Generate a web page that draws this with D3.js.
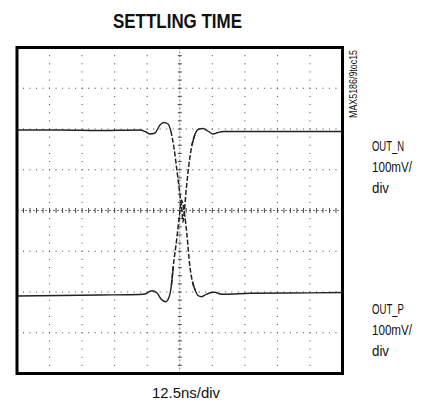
<!DOCTYPE html>
<html>
<head>
<meta charset="utf-8">
<script src="https://cdn.jsdelivr.net/npm/d3@7"></script>
<style>
  body { margin: 0; background: #fff; }
  svg { display: block; }
  text { font-family: "Liberation Sans Narrow", "Liberation Sans", Arial, sans-serif; fill: #111; }
</style>
</head>
<body>
<svg id="chart"></svg>
<script>
// scope trace, time in ns, level in mV
const outNTime = [0, 16.5, 31.9, 47.2, 49.5, 51.1, 53.0, 54.9, 56.4, 58.0, 59.1, 60.3, 61.4, 62.6, 63.4, 63.7, 64.3, 64.9, 66.0, 67.2, 68.4, 69.9, 71.4, 73.3, 75.3, 77.2, 79.5, 93.3, 108.7, 125];
const outNmV   = [197.5, 197.5, 196.3, 197.5, 192.6, 187.7, 190.2, 209.8, 216.0, 212.3, 195.1, 153.4, 99.4, 38.0, -3.7, -28.2, 1.2, 45.4, 111.7, 160.7, 187.7, 200.0, 201.2, 195.1, 187.7, 191.4, 193.9, 193.9, 193.9, 193.9];

const outPTime = [0, 16.5, 31.9, 47.2, 49.2, 51.7, 53.8, 55.3, 57.1, 58.4, 59.3, 60.0, 61.3, 62.4, 63.2, 63.7, 64.4, 65.2, 66.4, 67.4, 68.4, 69.5, 70.9, 72.6, 74.5, 76.0, 78.0, 79.9, 89.5, 104.8, 125];
const outPmV   = [-209.8, -208.6, -207.4, -206.1, -204.9, -196.8, -202.5, -217.2, -223.8, -212.3, -182.8, -137.9, -72.4, -11.0, 25.8, 16.0, -11.0, -56.0, -137.9, -175.5, -195.1, -208.6, -211.5, -206.1, -201.2, -200.7, -204.9, -205.6, -203.2, -202.5, -201.2];

// scope graticule: 10 x 8 divisions
const xDivs = d3.range(0, 11);        // 12.5ns/div
const yDivs = d3.range(-4, 5);        // 100mV/div
const nsPerDiv = 12.5;
const mVPerDiv = 100;

const labels = ["OUT_N", "100mV/", "div"];
const labelsP = ["OUT_P", "100mV/", "div"];

const width = 425, height = 402;
const plotL = 17, plotR = 342.5, plotT = 47.5, plotB = 373.5;

const svg = d3.select("#chart").attr("width", width).attr("height", height);

const x = d3.scaleLinear().domain([0, 10 * nsPerDiv]).range([plotL, plotR]);
const y = d3.scaleLinear().domain([-4 * mVPerDiv, 4 * mVPerDiv]).range([plotB, plotT]);

const grid = svg.append("g");

// dotted grid lines, dots at 1/5 division
const subX = d3.range(0, 50.01, 1).map(i => i * nsPerDiv / 5);
const subY = d3.range(-20, 20.01, 1).map(i => i * mVPerDiv / 5);

xDivs.slice(1, -1).forEach(d => {
  if (d === 5) return;
  grid.selectAll(null).data(subY).enter().append("rect")
    .attr("x", x(d * nsPerDiv) - 0.5).attr("y", v => y(v) - 0.5)
    .attr("width", 1).attr("height", 1).attr("fill", "#444");
});
yDivs.slice(1, -1).forEach(d => {
  if (d === 0) return;
  grid.selectAll(null).data(subX).enter().append("rect")
    .attr("x", t => x(t) - 0.5).attr("y", y(d * mVPerDiv) - 0.5)
    .attr("width", 1).attr("height", 1).attr("fill", "#444");
});

// centre axes with small tick marks
grid.selectAll(null).data(subX).enter().append("line")
  .attr("x1", t => x(t)).attr("x2", t => x(t))
  .attr("y1", y(0) - 2.5).attr("y2", y(0) + 2.5)
  .attr("stroke", "#333").attr("stroke-width", 0.9);
grid.append("line")
  .attr("x1", plotL).attr("x2", plotR).attr("y1", y(0)).attr("y2", y(0))
  .attr("stroke", "#555").attr("stroke-width", 0.8).attr("stroke-dasharray", "2,2");
grid.selectAll(null).data(subY).enter().append("line")
  .attr("x1", x(62.5) - 2).attr("x2", x(62.5) + 2)
  .attr("y1", v => y(v)).attr("y2", v => y(v))
  .attr("stroke", "#333").attr("stroke-width", 0.9);
grid.append("line")
  .attr("x1", x(62.5)).attr("x2", x(62.5)).attr("y1", plotT).attr("y2", plotB)
  .attr("stroke", "#555").attr("stroke-width", 0.8).attr("stroke-dasharray", "2,2");

// traces: steep edges look broken up on the scope, so draw them dashed
const line = d3.line().x(d => x(d[0])).y(d => y(d[1])).curve(d3.curveMonotoneX);
const traces = [d3.zip(outNTime, outNmV), d3.zip(outPTime, outPmV)];
const edgeFrom = 59.5, edgeTo = 67.5;

traces.forEach(pts => {
  const g = svg.append("g").attr("fill", "none").attr("stroke", "#222");
  g.append("path")
    .attr("d", line(pts.filter(d => d[0] <= edgeFrom + 0.6)))
    .attr("stroke-width", 1.4);
  g.append("path")
    .attr("d", line(pts.filter(d => d[0] >= edgeTo - 0.6)))
    .attr("stroke-width", 1.4);
  g.append("path")
    .attr("d", line(pts.filter(d => d[0] >= edgeFrom - 0.5 && d[0] <= edgeTo + 1.5)))
    .attr("stroke-width", 1.5)
    .attr("stroke-dasharray", "5,2");
});

// frame
svg.append("rect")
  .attr("x", plotL).attr("y", plotT)
  .attr("width", plotR - plotL).attr("height", plotB - plotT)
  .attr("fill", "none").attr("stroke", "#000").attr("stroke-width", 3);

// texts
svg.append("text")
  .attr("x", 113).attr("y", 28)
  .attr("font-size", 20).attr("font-weight", "bold")
  .attr("textLength", 129).attr("lengthAdjust", "spacingAndGlyphs")
  .text("SETTLING TIME");

svg.append("text")
  .attr("transform", "translate(357,118) rotate(-90)")
  .attr("font-size", 10)
  .attr("textLength", 68).attr("lengthAdjust", "spacingAndGlyphs")
  .text("MAX5186/9toc15");

const labelWidths = [32, 40, 17];
[[labels, 151], [labelsP, 314]].forEach(([lines, y0]) => {
  lines.forEach((s, i) => {
    svg.append("text")
      .attr("x", 372).attr("y", y0 + i * 21)
      .attr("font-size", 15)
      .attr("textLength", labelWidths[i]).attr("lengthAdjust", "spacingAndGlyphs")
      .text(s);
  });
});

svg.append("text")
  .attr("x", 152).attr("y", 398)
  .attr("font-size", 15)
  .attr("textLength", 68).attr("lengthAdjust", "spacingAndGlyphs")
  .text("12.5ns/div");
</script>
</body>
</html>
